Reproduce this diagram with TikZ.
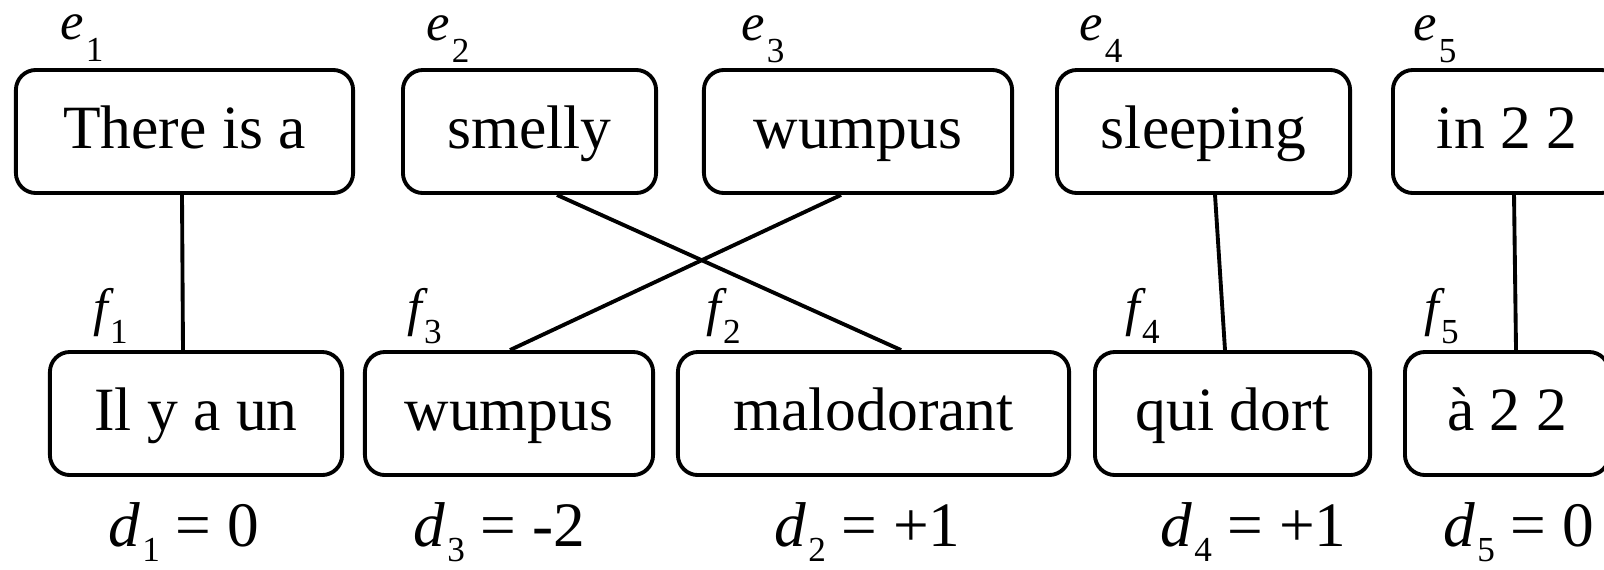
\documentclass[tikz,border=0pt]{standalone}
\usepackage{fontspec}
\setmainfont{Liberation Serif}
\usetikzlibrary{positioning}

\newcommand\idx[2][0.2cm]{\kern0.5pt\raisebox{-#1}{\upshape\fontsize{10}{12}\selectfont #2}}

\begin{document}
\begin{tikzpicture}[
  x=0.01cm, y=-0.01cm,
  word/.style={draw=black, line width=1.1pt, rounded corners=0.2cm, inner sep=0pt,
    minimum height=1.23cm, text height=0.45cm, text depth=0.12cm,
    font=\fontsize{17.5}{21}\selectfont},
  lbl/.style={anchor=base west, inner sep=0pt, font=\fontsize{15}{18}\selectfont\itshape},
  dist/.style={anchor=base west, inner sep=0pt, font=\fontsize{18}{21}\selectfont},
  link/.style={line width=1.1pt}
]
\useasboundingbox (0,0) rectangle (1604,569);

% English phrases
\node[word, minimum width=3.37cm] (e1) at (184.5,131.5) {There is a};
\node[word, minimum width=2.53cm] (e2) at (529.5,131.5) {smelly};
\node[word, minimum width=3.08cm] (e3) at (858,131.5)   {wumpus};
\node[word, minimum width=2.93cm] (e4) at (1203.5,131.5){sleeping};
\node[word, minimum width=2.28cm] (e5) at (1507,131.5)  {in 2 2};

% French phrases
\node[word, minimum width=2.92cm] (f1) at (196,413.5)   {Il y a un};
\node[word, minimum width=2.88cm] (f3) at (509,413.5)   {wumpus};
\node[word, minimum width=3.91cm] (f2) at (873.5,413.5) {malodorant};
\node[word, minimum width=2.75cm] (f4) at (1232.5,413.5){qui dort};
\node[word, minimum width=2.04cm] (f5) at (1507,413.5)  {à 2 2};

% labels
\node[lbl] (le1) at (60,39)   {e\idx[0.22cm]{1}};
\node[lbl] (le2) at (426,40)  {e\idx[0.22cm]{2}};
\node[lbl] (le3) at (741,40)  {e\idx[0.22cm]{3}};
\node[lbl] (le4) at (1079,40) {e\idx[0.22cm]{4}};
\node[lbl] (le5) at (1413,40) {e\idx[0.22cm]{5}};
\node[lbl] (lf1) at (93,325)  {f\idx[0.18cm]{1}};
\node[lbl] (lf3) at (407,325) {f\idx[0.18cm]{3}};
\node[lbl] (lf2) at (706,325) {f\idx[0.18cm]{2}};
\node[lbl] (lf4) at (1125,325){f\idx[0.18cm]{4}};
\node[lbl] (lf5) at (1424,325){f\idx[0.18cm]{5}};

% distortions
\node[dist] (d1) at (108,546)  {\textit{d}\idx[0.15cm]{1} = 0};
\node[dist] (d3) at (413,546)  {\textit{d}\idx[0.15cm]{3} = -2};
\node[dist] (d2) at (774,546)  {\textit{d}\idx[0.15cm]{2} = +1};
\node[dist] (d4) at (1160,546) {\textit{d}\idx[0.15cm]{4} = +1};
\node[dist] (d5) at (1443,546) {\textit{d}\idx[0.15cm]{5} = 0};

% alignment links
\path[link] ([xshift=-0.025cm]e1.south) edge ([xshift=-0.13cm]f1.north);
\path[link] ([xshift=0.275cm]e2.south)  edge ([xshift=0.275cm]f2.north);
\path[link] ([xshift=-0.17cm]e3.south)  edge ([xshift=0.01cm]f3.north);
\path[link] ([xshift=0.115cm]e4.south)  edge ([xshift=-0.075cm]f4.north);
\path[link] ([xshift=0.07cm]e5.south)   edge ([xshift=0.09cm]f5.north);

\end{tikzpicture}
\end{document}
